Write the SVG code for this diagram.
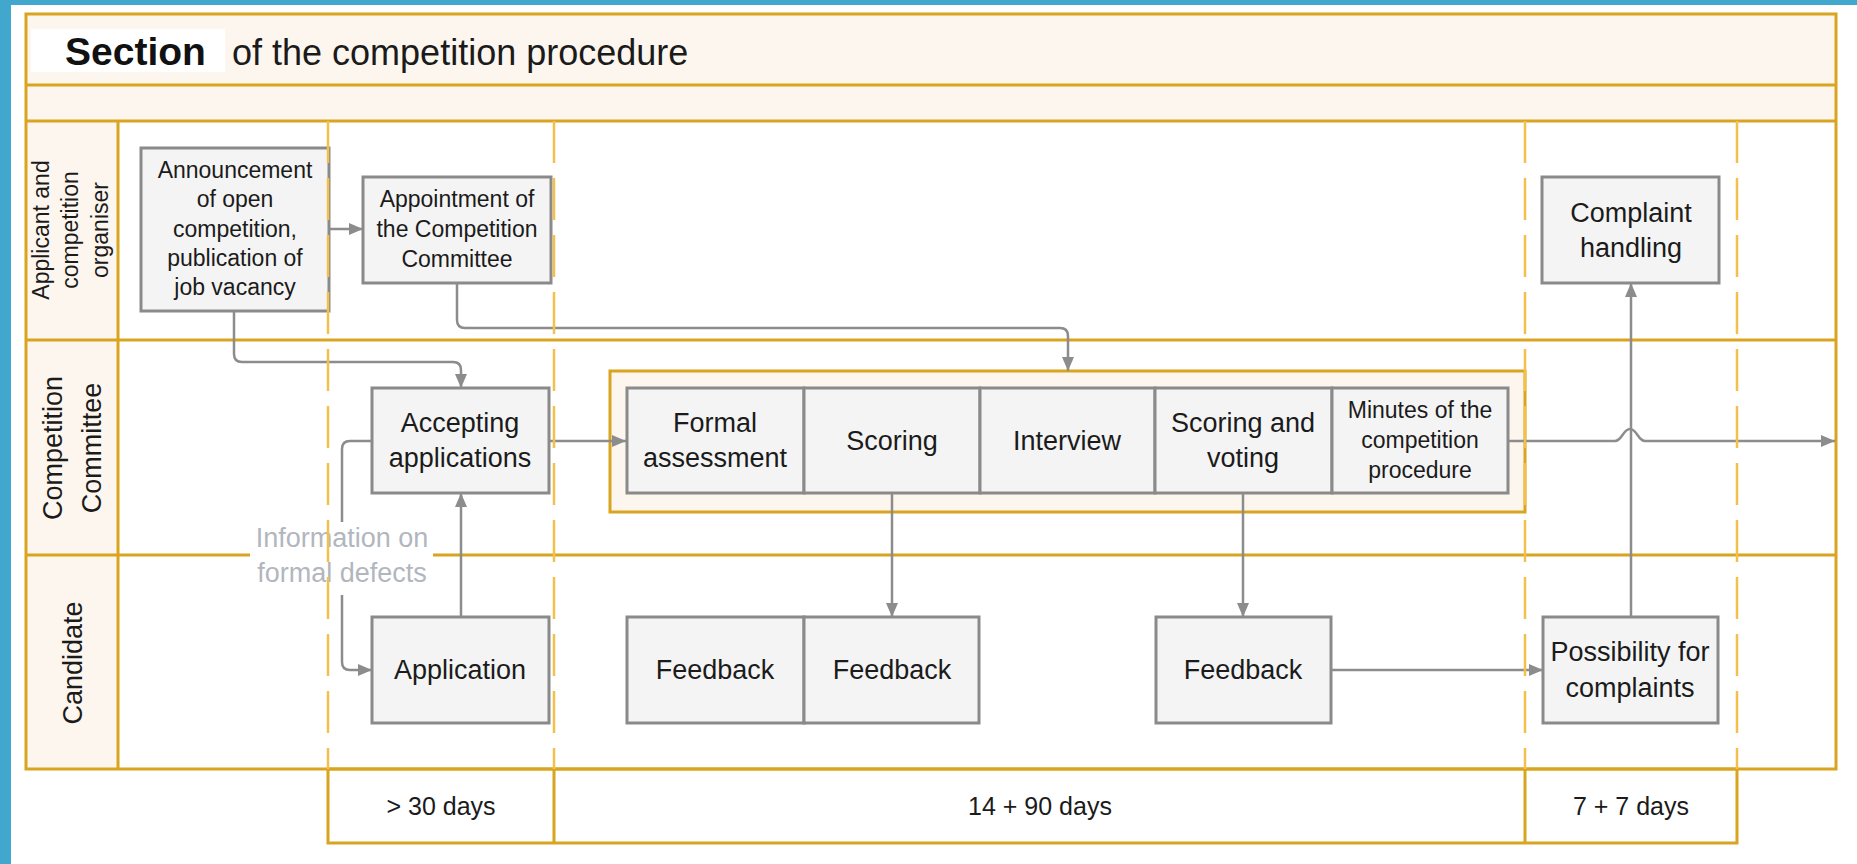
<svg xmlns="http://www.w3.org/2000/svg" width="1857" height="864" viewBox="0 0 1857 864">
<style>
.frame{fill:none;stroke:#D9A41F;stroke-width:3}
.ln{stroke:#D9A41F;stroke-width:3;fill:none}
.peach{fill:#FDF6EE}
.dash{stroke:#F4C04C;stroke-width:2.5;stroke-dasharray:42 15;fill:none}
.box{fill:#F4F4F4;stroke:#8A8A8A;stroke-width:3}
.t{font-family:'Liberation Sans',Arial,sans-serif;fill:#1b1b1b;text-anchor:middle}
.big{font-size:27px}
.small{font-size:23px}
.conn{fill:none;stroke:#8C8C8C;stroke-width:2.5}
.arr{marker-end:url(#ah)}
.info{font-family:'Liberation Sans',Arial,sans-serif;fill:#B2B6BE;font-size:27px;text-anchor:middle}
</style>
<defs>
<marker id="ah" markerWidth="14" markerHeight="12" refX="14" refY="6" orient="auto" markerUnits="userSpaceOnUse"><path d="M0,0 L14,6 L0,12 z" fill="#8C8C8C"/></marker>
</defs>
<rect x="0" y="0" width="1857" height="864" fill="#FFFFFF"/>
<rect x="0" y="0" width="1857" height="5" fill="#41A7CC"/>
<rect x="0" y="0" width="11" height="864" fill="#41A7CC"/>

<g id="frame">
<rect class="peach" x="26" y="14" width="1810" height="107"/>
<rect class="peach" x="26" y="121" width="92" height="648"/>
<rect x="31" y="29" width="194" height="43" fill="#FFFFFF"/>
<text x="65" y="65" font-family="'Liberation Sans',Arial,sans-serif" font-weight="bold" font-size="39" fill="#111">Section</text>
<text x="232" y="65" font-family="'Liberation Sans',Arial,sans-serif" font-size="36" fill="#1b1b1b">of the competition procedure</text>
<line class="ln" x1="26" y1="85" x2="1836" y2="85"/>
<line class="ln" x1="26" y1="121" x2="1836" y2="121"/>
<line class="ln" x1="26" y1="340" x2="1836" y2="340"/>
<line class="ln" x1="26" y1="555" x2="250" y2="555"/>
<line class="ln" x1="433" y1="555" x2="1836" y2="555"/>
<line class="ln" x1="118" y1="121" x2="118" y2="769"/>
<rect class="frame" x="26" y="14" width="1810" height="755"/>
</g>

<g id="lane-applicant">
<text class="t small" transform="translate(49,230) rotate(-90)">Applicant and</text>
<text class="t small" transform="translate(78,230) rotate(-90)">competition</text>
<text class="t small" transform="translate(108,230) rotate(-90)">organiser</text>
</g>
<g id="lane-committee">
<text class="t big" transform="translate(62,448) rotate(-90)">Competition</text>
<text class="t big" transform="translate(101,448) rotate(-90)">Committee</text>
</g>
<g id="lane-candidate">
<text class="t big" transform="translate(82,663) rotate(-90)">Candidate</text>
</g>

<g id="timeline">
<rect class="frame" x="328" y="769" width="1409" height="74"/>
<line class="ln" x1="554" y1="769" x2="554" y2="843"/>
<line class="ln" x1="1525" y1="769" x2="1525" y2="843"/>
<text class="t" font-size="25" x="441" y="815">&gt; 30 days</text>
<text class="t" font-size="25" x="1040" y="815">14 + 90 days</text>
<text class="t" font-size="25" x="1631" y="815">7 + 7 days</text>
</g>

<g id="group-assessment">
<rect x="610" y="371" width="915" height="141" fill="#FDF6EE" stroke="#D9A41F" stroke-width="3"/>
</g>

<g id="announcement">
<rect class="box" x="141" y="148" width="188" height="163"/>
<text class="t small" x="235" y="178">Announcement</text>
<text class="t small" x="235" y="207">of open</text>
<text class="t small" x="235" y="237">competition,</text>
<text class="t small" x="235" y="266">publication of</text>
<text class="t small" x="235" y="295">job vacancy</text>
</g>
<g id="appointment">
<rect class="box" x="363" y="177" width="188" height="106"/>
<text class="t small" x="457" y="207">Appointment of</text>
<text class="t small" x="457" y="237">the Competition</text>
<text class="t small" x="457" y="267">Committee</text>
</g>
<g id="complaint-handling">
<rect class="box" x="1542" y="177" width="177" height="106"/>
<text class="t big" x="1631" y="222">Complaint</text>
<text class="t big" x="1631" y="257">handling</text>
</g>
<g id="accepting">
<rect class="box" x="372" y="388" width="177" height="105"/>
<text class="t big" x="460" y="432">Accepting</text>
<text class="t big" x="460" y="467">applications</text>
</g>
<g id="formal">
<rect class="box" x="627" y="388" width="177" height="105"/>
<text class="t big" x="715" y="432">Formal</text>
<text class="t big" x="715" y="467">assessment</text>
</g>
<g id="scoring">
<rect class="box" x="804" y="388" width="176" height="105"/>
<text class="t big" x="892" y="450">Scoring</text>
</g>
<g id="interview">
<rect class="box" x="980" y="388" width="175" height="105"/>
<text class="t big" x="1067" y="450">Interview</text>
</g>
<g id="scoring-voting">
<rect class="box" x="1155" y="388" width="177" height="105"/>
<text class="t big" x="1243" y="432">Scoring and</text>
<text class="t big" x="1243" y="467">voting</text>
</g>
<g id="minutes">
<rect class="box" x="1332" y="388" width="176" height="105"/>
<text class="t small" x="1420" y="418">Minutes of the</text>
<text class="t small" x="1420" y="448">competition</text>
<text class="t small" x="1420" y="478">procedure</text>
</g>
<g id="application">
<rect class="box" x="372" y="617" width="177" height="106"/>
<text class="t big" x="460" y="679">Application</text>
</g>
<g id="feedback1">
<rect class="box" x="627" y="617" width="177" height="106"/>
<text class="t big" x="715" y="679">Feedback</text>
</g>
<g id="feedback2">
<rect class="box" x="804" y="617" width="175" height="106"/>
<text class="t big" x="892" y="679">Feedback</text>
</g>
<g id="feedback3">
<rect class="box" x="1156" y="617" width="175" height="106"/>
<text class="t big" x="1243" y="679">Feedback</text>
</g>
<g id="possibility">
<rect class="box" x="1543" y="617" width="175" height="106"/>
<text class="t big" x="1630" y="661">Possibility for</text>
<text class="t big" x="1630" y="697">complaints</text>
</g>

<g id="connectors">
<path class="conn arr" d="M329,229 H363"/>
<path class="conn arr" d="M234,311 V354 Q234,362 242,362 H453 Q461,362 461,370 V388"/>
<path class="conn arr" d="M457,283 V320 Q457,328 465,328 H1060 Q1068,328 1068,336 V371"/>
<path class="conn arr" d="M549,441 H626"/>
<path class="conn" d="M372,441 H350 Q342,441 342,449 V522"/>
<path class="conn arr" d="M342,595 V662 Q342,670 350,670 H372"/>
<path class="conn arr" d="M461,617 V493"/>
<path class="conn arr" d="M892,493 V617"/>
<path class="conn arr" d="M1243,493 V617"/>
<path class="conn arr" d="M1331,670 H1543"/>
<path class="conn arr" d="M1631,617 V283"/>
<path class="conn arr" d="M1508,441 H1615 C1622,441 1623,429 1630,429 C1637,429 1638,441 1645,441 H1835"/>
<text class="info" x="342" y="547">Information on</text>
<text class="info" x="342" y="582">formal defects</text>
</g>

<g id="phase-dividers">
<line class="dash" x1="328" y1="121" x2="328" y2="769"/>
<line class="dash" x1="554" y1="121" x2="554" y2="769"/>
<line class="dash" x1="1525" y1="121" x2="1525" y2="769"/>
<line class="dash" x1="1737" y1="121" x2="1737" y2="769"/>
</g>
</svg>
